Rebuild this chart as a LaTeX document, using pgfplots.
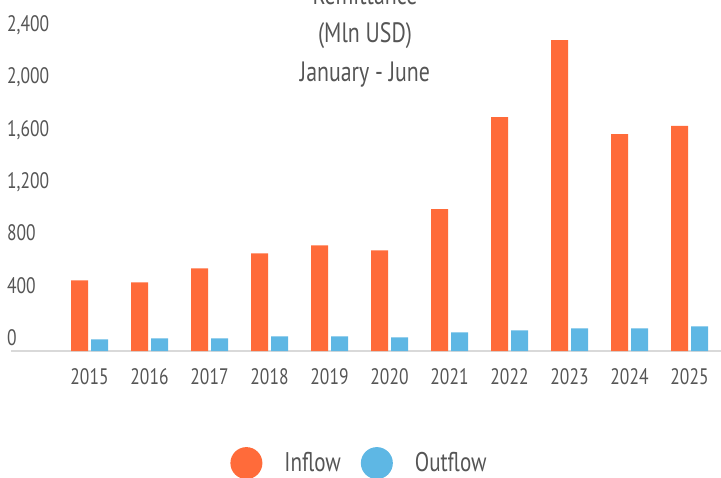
\documentclass[border=0pt]{standalone}
\usepackage{fontspec}
\setmainfont{PT Sans}[FakeStretch=0.78]
\usepackage{pgfplots}
\pgfplotsset{compat=1.18}
\definecolor{inflow}{HTML}{FF6B3A}
\definecolor{outflow}{HTML}{5EB7E4}
\definecolor{txt}{HTML}{555555}
\definecolor{axline}{HTML}{D9D9D9}
\begin{document}
\begin{tikzpicture}
\begin{axis}[
    at={(5.5pt,63pt)}, anchor=south west,
    scale only axis, width=355pt, height=157pt,
    xmin=-1.3083, xmax=10.525, ymin=0, ymax=2400,
    ybar=1.5pt, bar width=8.5pt,
    axis x line=bottom, axis y line=left,
    y axis line style={draw=none},
    x axis line style={draw=axline, line width=1pt, -},
    tick style={draw=none},
    ytick={0,400,...,2400},
    xtick={0,...,10},
    xticklabels={2015,2016,2017,2018,2019,2020,2021,2022,2023,2024,2025},
    /pgf/number format/assume math mode=true,
    /pgf/number format/1000 sep={,},
    yticklabel style={anchor=base west, inner sep=0pt, yshift=2.75pt, text=txt, font=\fontsize{11.2}{13}\selectfont},
    xticklabel style={anchor=base, inner sep=0pt, yshift=-14.5pt, text=txt, font=\fontsize{11.2}{13}\selectfont},
    legend columns=2,
    legend image code/.code={\fill (0pt,0pt) circle (8pt);},
    legend style={at={(0.4894,-0.357)}, anchor=center, draw=none, fill=none,
      font=\fontsize{13.5}{16}\selectfont, text=txt,
      nodes={inner sep=0pt},
      /tikz/every odd column/.append style={column sep=11pt},
      /tikz/every even column/.append style={column sep=10pt}},
  ]
  \addplot[fill=inflow, draw=none] coordinates {(0,540) (1,525) (2,632) (3,746) (4,808) (5,769) (6,1085) (7,1788) (8,2377) (9,1658) (10,1720)};
  \addlegendentry{Inflow}
  \addplot[fill=outflow, draw=none] coordinates {(0,89) (1,97) (2,97) (3,112) (4,112) (5,105) (6,143) (7,158) (8,173) (9,173) (10,189)};
  \addlegendentry{Outflow}
\end{axis}
\begin{scope}[every node/.style={anchor=base, text=txt, inner sep=0pt, font=\fontsize{14}{16}\selectfont}]
  \node at (182.5pt,236pt) {Remittance};
  \node at (182.5pt,217pt) {(Mln USD)};
  \node at (182.5pt,197.5pt) {January - June};
\end{scope}
\pgfresetboundingbox
\useasboundingbox (0pt,0pt) rectangle (360.5pt,238.5pt);
\end{tikzpicture}
\end{document}
